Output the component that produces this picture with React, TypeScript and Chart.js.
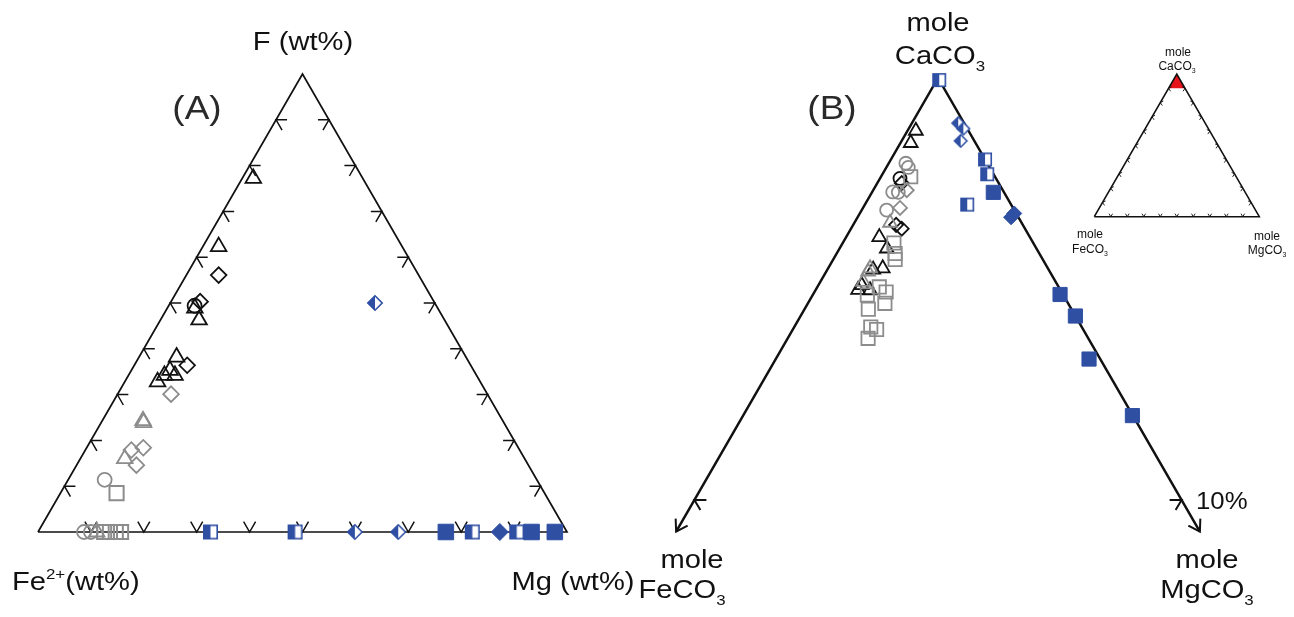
import React, { useEffect, useRef } from "react";
import { Chart, registerables } from "chart.js";
Chart.register(...registerables);

// ---------- Panel A data: [F, Fe2+, Mg] (wt%) ----------
const aBlackTriangles = [
  [77.2, 20.7, 2.1], [62.3, 34.7, 3.0], [48.9, 45.9, 5.2], [46.3, 46.4, 7.3],
  [38.2, 54.7, 7.1], [34.2, 57.0, 8.8], [35.3, 57.4, 7.3], [34.2, 59.0, 6.8], [32.8, 61.0, 6.2],
];
const aBlackDiamonds = [[56.1, 37.8, 6.1], [50.3, 44.2, 5.5], [36.4, 53.6, 10.0]];
const aBlackCircles = [[49.4, 45.7, 4.9]];
const aGrayTriangles = [[24.3, 68.0, 7.7], [23.9, 68.1, 8.0], [16.0, 75.6, 8.4], [0, 88.9, 11.1]];
const aGrayDiamonds = [[30.1, 59.8, 10.1], [17.9, 73.4, 8.7], [18.4, 70.9, 10.7], [14.6, 74.1, 11.3]];
const aGrayCircles = [[11.4, 81.7, 6.9], [0, 91.3, 8.7], [0, 90.0, 10.0]];
const aGraySquares = [[8.5, 80.9, 10.6], [0, 87.5, 12.5], [0, 86.4, 13.6], [0, 85.3, 14.7], [0, 84.3, 15.7]];
const aBlueHalfSquares = [[0, 67.4, 32.6], [0, 51.4, 48.6], [0, 17.9, 82.1], [0, 9.5, 90.5]];
const aBlueHalfDiamonds = [[50.0, 11.3, 38.7], [0, 40.1, 59.9], [0, 31.9, 68.1]];
const aBlueSquares = [[0, 22.9, 77.1], [0, 6.7, 93.3], [0, 2.3, 97.7]];
const aBlueDiamonds = [[0, 12.7, 87.3]];

// ---------- Panel B data: [FeCO3, MgCO3] (mole %), CaCO3 = rest ----------
const bBlueHalfSquares = [[0, 0.05], [0, 1.93], [0.13, 2.15], [0.9, 2.1]];
const bBlueHalfDiamonds = [[0.12, 0.95], [0.08, 1.12], [0.28, 1.21]];
const bBlueSquares = [[0.22, 2.49], [0.06, 5.07], [0, 5.64], [0.23, 6.43], [0.01, 7.99]];
const bBlueDiamonds = [[0.04, 3.17], [0.15, 3.15]];
const bBlackTriangles = [
  [1.08, 0.17], [1.33, 0.21], [3.09, 0.68], [3.07, 0.97], [3.6, 0.94],
  [3.39, 1.12], [4.02, 0.89], [3.91, 1.12], [4.15, 0.87],
];
const bBlackCircles = [[1.97, 0.41]];
const bBlackDiamonds = [[1.99, 0.5], [2.53, 1.04], [2.6, 0.88]];
const bGrayCircles = [[1.67, 0.35], [1.67, 0.45], [2.28, 0.42], [2.17, 0.54], [2.62, 0.51]];
const bGrayDiamonds = [[1.97, 0.69], [2.32, 0.76]];
const bGrayTriangles = [[2.7, 0.73], [3.73, 0.86], [3.65, 0.86], [3.95, 0.88]];
const bGraySquares = [
  [1.73, 0.61], [2.86, 1.05], [2.96, 1.2], [3.03, 1.27], [3.68, 1.27], [3.6, 1.47],
  [4.02, 1.12], [3.76, 1.58], [4.17, 1.31], [4.24, 1.72], [4.33, 1.57], [4.52, 1.65],
];

// tick values (%)
const aTicks = [10, 20, 30, 40, 50, 60, 70, 80, 90];
const bTicks = [10];
const bAxisEnd = 10.75;
const insetTicks = [10, 20, 30, 40, 50, 60, 70, 80, 90];
const insetZoom = 10;

// ---------- layout ----------
const W = 1294, H = 617;
const BLUE = "#2f4fa3";
const GRAY = "#8c8c8c";
const BLACK = "#111111";
const RED = "#e8141b";
const FONT = "'Liberation Sans', Arial, Helvetica, sans-serif";

type P = { x: number; y: number };
const A_T: P = { x: 302.5, y: 74 }, A_L: P = { x: 38, y: 532 }, A_R: P = { x: 567, y: 532 };
const B_T: P = { x: 938, y: 78 }, B_STEP_X = 24.36, B_STEP_Y = 42.2;
const B_L: P = { x: B_T.x - 100 * B_STEP_X, y: B_T.y + 100 * B_STEP_Y };
const B_R: P = { x: B_T.x + 100 * B_STEP_X, y: B_T.y + 100 * B_STEP_Y };
const I_T: P = { x: 1176.8, y: 74 }, I_L: P = { x: 1094.3, y: 216.7 }, I_R: P = { x: 1259.3, y: 216.7 };

const tern = (T: P, L: P, R: P, top: number, left: number, right: number): P => {
  const s = top + left + right;
  return { x: (T.x * top + L.x * left + R.x * right) / s, y: (T.y * top + L.y * left + R.y * right) / s };
};
const ptA = (v: number[]) => tern(A_T, A_L, A_R, v[0], v[1], v[2]);
const ptB = (v: number[]) => tern(B_T, B_L, B_R, 100 - v[0] - v[1], v[0], v[1]);
const ptI = (top: number, left: number, right: number) => tern(I_T, I_L, I_R, top, left, right);

const GAP = { x: null as any, y: null as any };
const off = (p: P, dx: number, dy: number): P => ({ x: p.x + dx, y: p.y + dy });

function buildLines() {
  const aFrame: any[] = [A_L, A_T, A_R, A_L];
  const aTickPts: any[] = [];
  aTicks.forEach((k) => {
    const l = ptA([k, 100 - k, 0]);
    aTickPts.push(off(l, 11, 0), l, off(l, 6, 10.4), GAP);
    const r = ptA([k, 0, 100 - k]);
    aTickPts.push(off(r, -11, 0), r, off(r, -6, 10.4), GAP);
    const b = ptA([0, 100 - k, k]);
    aTickPts.push(off(b, -6, -10.4), b, off(b, 6, -10.4), GAP);
  });
  const endL = ptB([bAxisEnd, 0]);
  const endR = ptB([0, bAxisEnd]);
  const bAxes: any[] = [endL, B_T, endR];
  const bDeco: any[] = [];
  const arrow = (tip: P) => {
    const ang = Math.atan2(B_T.y - tip.y, B_T.x - tip.x);
    const a = 0.56, Lh = 13;
    bDeco.push(
      { x: tip.x + Lh * Math.cos(ang - a), y: tip.y + Lh * Math.sin(ang - a) },
      tip,
      { x: tip.x + Lh * Math.cos(ang + a), y: tip.y + Lh * Math.sin(ang + a) },
      GAP
    );
  };
  arrow(endL);
  arrow(endR);
  bTicks.forEach((k) => {
    const l = ptB([k, 0]);
    bDeco.push(off(l, 12, 0), l, off(l, 6, 10), GAP);
    const r = ptB([0, k]);
    bDeco.push(off(r, -12, 0), r, off(r, -6, 10), GAP);
  });
  const iFrame: any[] = [I_L, I_T, I_R, I_L];
  const iTicks: any[] = [];
  insetTicks.forEach((k) => {
    const l = ptI(k, 100 - k, 0);
    iTicks.push(off(l, 3, -1.5), l, off(l, 2, 3), GAP);
    const r = ptI(k, 0, 100 - k);
    iTicks.push(off(r, -3, -1.5), r, off(r, -2, 3), GAP);
    const b = ptI(0, 100 - k, k);
    iTicks.push(off(b, -1.8, -3), b, off(b, 1.8, -3), GAP);
  });
  return { aFrame, aTickPts, bAxes, bDeco, iFrame, iTicks };
}

function halfSquare(size: number, color: string, lw = 1.6) {
  const c = document.createElement("canvas");
  const pad = 1;
  c.width = size + pad * 2;
  c.height = size + pad * 2;
  const g = c.getContext("2d")!;
  const x0 = pad + lw / 2, y0 = pad + lw / 2, s = size - lw;
  g.fillStyle = "#fff";
  g.fillRect(x0, y0, s, s);
  g.fillStyle = color;
  g.fillRect(x0, y0, s / 2, s);
  g.strokeStyle = color;
  g.lineWidth = lw;
  g.strokeRect(x0, y0, s, s);
  return c;
}
function halfDiamond(size: number, color: string, lw = 1.6) {
  const c = document.createElement("canvas");
  const n = size + 2;
  c.width = n;
  c.height = n;
  const g = c.getContext("2d")!;
  const h = n / 2, r = size / 2 - lw / 2;
  const path = () => {
    g.beginPath();
    g.moveTo(h, h - r);
    g.lineTo(h + r, h);
    g.lineTo(h, h + r);
    g.lineTo(h - r, h);
    g.closePath();
  };
  path();
  g.fillStyle = "#fff";
  g.fill();
  g.save();
  g.beginPath();
  g.rect(0, 0, h, n);
  g.clip();
  path();
  g.fillStyle = color;
  g.fill();
  g.restore();
  path();
  g.strokeStyle = color;
  g.lineWidth = lw;
  g.stroke();
  return c;
}

type Part = { t: string; k?: "sub" | "sup" };
type Label = { parts: Part[]; x: number; y: number; size: number; align?: "left" | "center" | "right"; sx?: number; color?: string };
const labels: Label[] = [
  { parts: [{ t: "F (wt%)" }], x: 303, y: 50, size: 26 },
  { parts: [{ t: "(A)" }], x: 197, y: 119, size: 33, color: "#2a2a2a" },
  { parts: [{ t: "Fe" }, { t: "2+", k: "sup" }, { t: "(wt%)" }], x: 12, y: 590, size: 26, align: "left" },
  { parts: [{ t: "Mg (wt%)" }], x: 573, y: 590, size: 26 },
  { parts: [{ t: "(B)" }], x: 832, y: 119, size: 33, color: "#2a2a2a" },
  { parts: [{ t: "mole" }], x: 938, y: 31, size: 26 },
  { parts: [{ t: "CaCO" }, { t: "3", k: "sub" }], x: 940, y: 64, size: 26 },
  { parts: [{ t: "mole" }], x: 692, y: 568, size: 26 },
  { parts: [{ t: "FeCO" }, { t: "3", k: "sub" }], x: 682, y: 598, size: 26 },
  { parts: [{ t: "mole" }], x: 1207, y: 568, size: 26 },
  { parts: [{ t: "MgCO" }, { t: "3", k: "sub" }], x: 1207, y: 598, size: 26 },
  { parts: [{ t: "10%" }], x: 1196, y: 509, size: 23, align: "left" },
  { parts: [{ t: "mole" }], x: 1178, y: 56, size: 12, sx: 1.0 },
  { parts: [{ t: "CaCO" }, { t: "3", k: "sub" }], x: 1177, y: 70, size: 12, sx: 1.0 },
  { parts: [{ t: "mole" }], x: 1090, y: 238, size: 12, sx: 1.0 },
  { parts: [{ t: "FeCO" }, { t: "3", k: "sub" }], x: 1090, y: 253, size: 12, sx: 1.0 },
  { parts: [{ t: "mole" }], x: 1267, y: 240, size: 12, sx: 1.0 },
  { parts: [{ t: "MgCO" }, { t: "3", k: "sub" }], x: 1267, y: 254, size: 12, sx: 1.0 },
];

const decoPlugin = {
  id: "deco",
  beforeDatasetsDraw(chart: any) {
    const { ctx, scales } = chart;
    const X = (v: number) => scales.x.getPixelForValue(v);
    const Y = (v: number) => scales.y.getPixelForValue(v);
    const poly = [ptI(100, 0, 0), ptI(100 - insetZoom, insetZoom, 0), ptI(100 - insetZoom, 0, insetZoom)];
    ctx.save();
    ctx.beginPath();
    poly.forEach((p, i) => (i ? ctx.lineTo(X(p.x), Y(p.y)) : ctx.moveTo(X(p.x), Y(p.y))));
    ctx.closePath();
    ctx.fillStyle = RED;
    ctx.fill();
    ctx.restore();
  },
  afterDatasetsDraw(chart: any) {
    const { ctx, scales } = chart;
    const X = (v: number) => scales.x.getPixelForValue(v);
    const Y = (v: number) => scales.y.getPixelForValue(v);
    labels.forEach((lb) => {
      const sx = lb.sx ?? 1.12;
      ctx.save();
      ctx.translate(X(lb.x), Y(lb.y));
      ctx.scale(sx, 1);
      ctx.textBaseline = "alphabetic";
      ctx.textAlign = "left";
      ctx.fillStyle = lb.color ?? BLACK;
      const fs = (p: Part) => (p.k ? lb.size * 0.58 : lb.size);
      const widths = lb.parts.map((p) => {
        ctx.font = `${fs(p)}px ${FONT}`;
        return ctx.measureText(p.t).width;
      });
      const total = widths.reduce((a, b) => a + b, 0);
      const align = lb.align ?? "center";
      let x = align === "center" ? -total / 2 : align === "right" ? -total : 0;
      lb.parts.forEach((p, i) => {
        ctx.font = `${fs(p)}px ${FONT}`;
        const dy = p.k === "sub" ? lb.size * 0.28 : p.k === "sup" ? -lb.size * 0.42 : 0;
        ctx.fillText(p.t, x, dy);
        x += widths[i];
      });
      ctx.restore();
    });
  },
};

export default function App() {
  const ref = useRef<HTMLCanvasElement | null>(null);
  useEffect(() => {
    if (!ref.current) return;
    const L = buildLines();
    const line = (data: any[], width: number) => ({
      data,
      showLine: true,
      borderColor: BLACK,
      borderWidth: width,
      pointRadius: 0,
      pointHoverRadius: 0,
      spanGaps: false,
      fill: false,
      tension: 0,
      order: 10,
      clip: false,
    });
    const mk = (data: P[], style: any, radius: number, color: string, fill: string, width = 1.8) => ({
      data,
      showLine: false,
      pointStyle: style,
      pointRadius: radius,
      pointHoverRadius: radius,
      pointBorderColor: color,
      pointBackgroundColor: fill,
      pointBorderWidth: width,
      pointHoverBorderWidth: width,
      order: 0,
      clip: false,
    });
    const none = "rgba(0,0,0,0)";
    const hsA = halfSquare(15, BLUE);
    const hdA = halfDiamond(16, BLUE);
    const hsB = halfSquare(14, BLUE);
    const hdB = halfDiamond(14, BLUE);
    const chart = new Chart(ref.current, {
      type: "scatter",
      data: {
        datasets: [
          line(L.aFrame, 1.7),
          line(L.aTickPts, 1.5),
          line(L.bAxes, 2.5),
          line(L.bDeco, 2),
          line(L.iFrame, 1.6),
          line(L.iTicks, 0.9),
          mk(aGraySquares.map(ptA), "rect", 10, GRAY, none, 2),
          mk(aGrayCircles.map(ptA), "circle", 7, GRAY, none),
          mk(aGrayTriangles.map(ptA), "triangle", 9, GRAY, none),
          mk(aGrayDiamonds.map(ptA), "rectRot", 7.8, GRAY, none),
          mk(aBlackTriangles.map(ptA), "triangle", 9, BLACK, none),
          mk(aBlackDiamonds.map(ptA), "rectRot", 7.8, BLACK, none),
          mk(aBlackCircles.map(ptA), "circle", 7, BLACK, none),
          mk(aBlueSquares.map(ptA), "rect", 11, BLUE, BLUE, 1),
          mk(aBlueDiamonds.map(ptA), "rectRot", 8.5, BLUE, BLUE, 1),
          mk(aBlueHalfSquares.map(ptA), hsA, 8, BLUE, BLUE, 1),
          mk(aBlueHalfDiamonds.map(ptA), hdA, 8, BLUE, BLUE, 1),
          mk(bGraySquares.map(ptB), "rect", 9.4, GRAY, none),
          mk(bGrayCircles.map(ptB), "circle", 6.5, GRAY, none),
          mk(bGrayTriangles.map(ptB), "triangle", 8, GRAY, none),
          mk(bGrayDiamonds.map(ptB), "rectRot", 7, GRAY, none),
          mk(bBlackTriangles.map(ptB), "triangle", 8, BLACK, none),
          mk(bBlackDiamonds.map(ptB), "rectRot", 7, BLACK, none),
          mk(bBlackCircles.map(ptB), "circle", 6.5, BLACK, none),
          mk(bBlueSquares.map(ptB), "rect", 10, BLUE, BLUE, 1),
          mk(bBlueDiamonds.map(ptB), "rectRot", 7.5, BLUE, BLUE, 1),
          mk(bBlueHalfSquares.map(ptB), hsB, 8, BLUE, BLUE, 1),
          mk(bBlueHalfDiamonds.map(ptB), hdB, 8, BLUE, BLUE, 1),
        ] as any,
      },
      options: {
        responsive: false,
        maintainAspectRatio: false,
        animation: false,
        events: [],
        devicePixelRatio: 1,
        layout: { padding: 0, autoPadding: false },
        plugins: { legend: { display: false }, tooltip: { enabled: false } },
        scales: {
          x: { type: "linear", min: 0, max: W, display: false },
          y: { type: "linear", min: 0, max: H, reverse: true, display: false },
        },
      } as any,
      plugins: [decoPlugin],
    });
    return () => chart.destroy();
  }, []);
  return (
    <div style={{ position: "fixed", left: 0, top: 0, width: W, height: H, background: "#fff" }}>
      <canvas ref={ref} width={W} height={H} style={{ display: "block", width: W, height: H }} />
    </div>
  );
}
